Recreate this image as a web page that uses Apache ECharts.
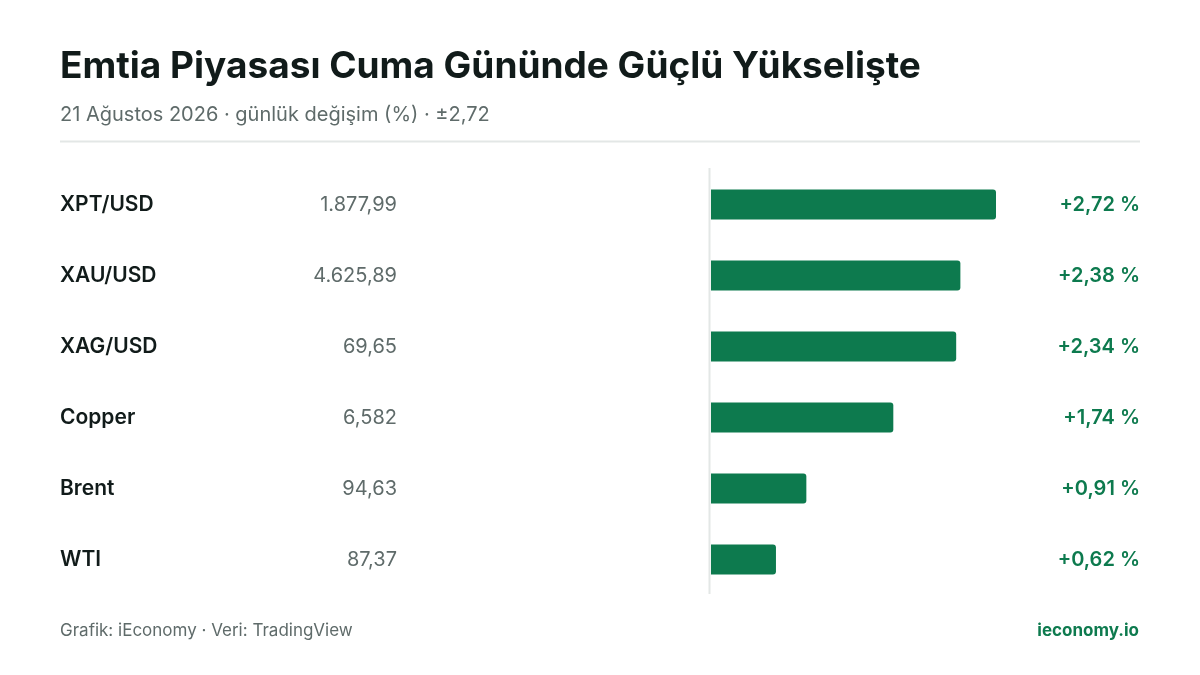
<!DOCTYPE html>
<html>
<head>
<meta charset="utf-8">
<script src="https://cdn.jsdelivr.net/npm/echarts@6/dist/echarts.min.js"></script>
<style>
html,body{margin:0;padding:0;background:#fff;}
#c{width:1200px;height:675px;}
</style>
</head>
<body>
<div id="c"></div>
<script>
const categories = ['XPT/USD', 'XAU/USD', 'XAG/USD', 'Copper', 'Brent', 'WTI'];
const prices = ['1.877,99', '4.625,89', '69,65', '6,582', '94,63', '87,37'];
const changes = [2.72, 2.38, 2.34, 1.74, 0.91, 0.62];
const changeLabels = ['+2,72 %', '+2,38 %', '+2,34 %', '+1,74 %', '+0,91 %', '+0,62 %'];

const FONT = 'Inter, "Noto Sans", sans-serif';
const GREEN = '#0d7a4e';
const GRID_LEFT = 711, GRID_RIGHT_X = 996;

const chart = echarts.init(document.getElementById('c'), null, {renderer: 'canvas'});
chart.setOption({
  backgroundColor: '#ffffff',
  animation: false,
  title: [{
    text: 'Emtia Piyasası Cuma Gününde Güçlü Yükselişte',
    left: 60, top: 48, padding: 0,
    textStyle: {fontFamily: FONT, fontSize: 37, fontWeight: 700, color: '#111b1a'}
  }, {
    text: '21 Ağustos 2026 · günlük değişim (%) · ±2,72',
    left: 60, top: 105, padding: 0,
    textStyle: {fontFamily: FONT, fontSize: 20, fontWeight: 400, color: '#5f6b6a'}
  }, {
    text: 'Grafik: iEconomy · Veri: TradingView',
    left: 60, top: 622, padding: 0,
    textStyle: {fontFamily: FONT, fontSize: 17, fontWeight: 400, color: '#5f6b6a'}
  }, {
    text: 'ieconomy.io',
    right: 61, top: 622, padding: 0,
    textStyle: {fontFamily: FONT, fontSize: 17, fontWeight: 700, color: GREEN}
  }],
  graphic: [{
    type: 'line',
    shape: {x1: 60, y1: 141.5, x2: 1140, y2: 141.5},
    style: {stroke: '#e3e7e6', lineWidth: 2}
  }, {
    type: 'line',
    shape: {x1: 709.5, y1: 168, x2: 709.5, y2: 594},
    style: {stroke: '#e3e7e6', lineWidth: 2}
  }],
  grid: {left: GRID_LEFT, right: 1200 - GRID_RIGHT_X, top: 169, bottom: 675 - 595, containLabel: false},
  xAxis: {
    type: 'value', min: 0, max: 2.72,
    show: false
  },
  yAxis: [{
    type: 'category', data: categories, inverse: true, position: 'left',
    axisLine: {show: false},
    axisTick: {show: false},
    axisLabel: {align: 'left', margin: GRID_LEFT - 60, padding: [2, 0, 0, 0], fontFamily: FONT, fontSize: 21, fontWeight: 600, color: '#111b1a'}
  }, {
    type: 'category', data: prices, inverse: true, position: 'left',
    axisLine: {show: false}, axisTick: {show: false},
    axisLabel: {align: 'right', margin: GRID_LEFT - 397, padding: [2, 0, 0, 0], fontFamily: FONT, fontSize: 20, fontWeight: 400, color: '#5f6b6a'}
  }, {
    type: 'category', data: changeLabels, inverse: true, position: 'right',
    axisLine: {show: false}, axisTick: {show: false},
    axisLabel: {align: 'right', margin: 1140 - GRID_RIGHT_X, padding: [2, 0, 0, 0], fontFamily: FONT, fontSize: 20, fontWeight: 600, color: GREEN}
  }],
  series: [{
    type: 'bar',
    data: changes,
    barWidth: 30,
    itemStyle: {color: GREEN, borderRadius: [0, 3, 3, 0]}
  }]
});
</script>
</body>
</html>
